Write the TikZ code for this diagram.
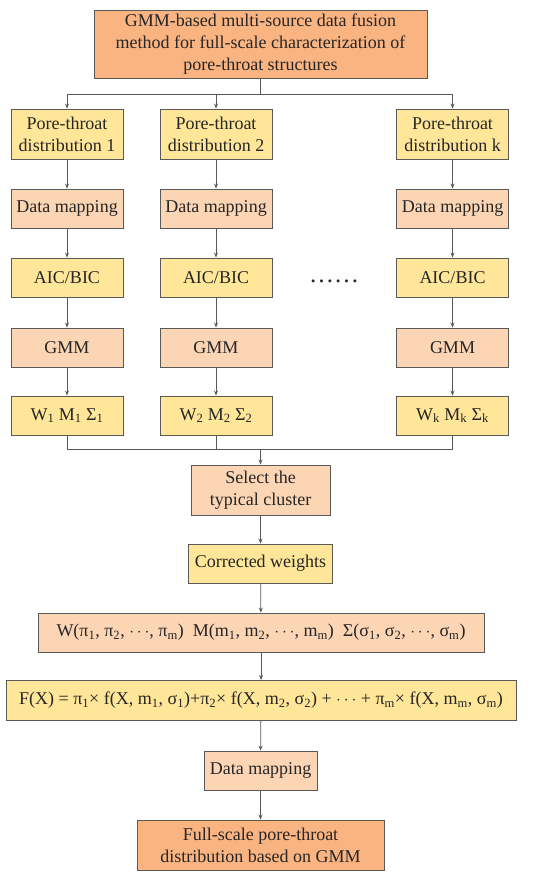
\documentclass[tikz,border=0pt]{standalone}
\usepackage{fontspec}
\setmainfont{Liberation Serif}
\usetikzlibrary{arrows.meta}
\definecolor{darkor}{HTML}{FAB482}
\definecolor{lightor}{HTML}{FCD5B4}
\definecolor{yel}{HTML}{FFE699}
\definecolor{bord}{HTML}{595959}
\definecolor{txt}{HTML}{262626}
\newcommand{\sbs}[1]{\textsubscript{#1}}
\begin{document}
\begin{tikzpicture}[x=1pt,y=-1pt,
  box/.style={draw=bord,line width=0.9pt,inner sep=0pt,align=center,text=txt,
     font=\fontsize{18}{22}\selectfont},
  darkbox/.style={box,fill=darkor},
  lightbox/.style={box,fill=lightor},
  yelbox/.style={box,fill=yel},
  colbox/.style={minimum width=112pt,minimum height=39pt},
  arr/.style={draw=bord,line width=0.8pt,-{Stealth[length=5pt,width=4pt]}},
  ln/.style={draw=bord,line width=0.8pt}]
\useasboundingbox (0,0) rectangle (550,880);
\fill[white] (0,0) rectangle (550,880);

\node[darkbox,minimum width=333pt,minimum height=68pt] (top) at (260.5,44)
  {GMM-based multi-source data fusion\\method for full-scale characterization of\\pore-throat structures};

\foreach \n/\x/\s in {1/67/1,2/216/2,k/452.5/k}{
  \node[yelbox,colbox,minimum height=50pt] (p\n) at (\x,134) {Pore-throat\\distribution \s};
  \node[lightbox,colbox] (d\n) at (\x,208.5) {Data mapping};
  \node[yelbox,colbox] (a\n) at (\x,277.5) {AIC/BIC};
  \node[lightbox,colbox] (g\n) at (\x,347.5) {GMM};
  \draw[arr] (p\n) -- (d\n);
  \draw[arr] (d\n) -- (a\n);
  \draw[arr] (a\n) -- (g\n);
}
\node[yelbox,colbox] (w1) at (67,415.5) {W\sbs{1} M\sbs{1} Σ\sbs{1}};
\node[yelbox,colbox] (w2) at (216,415.5) {W\sbs{2} M\sbs{2} Σ\sbs{2}};
\node[yelbox,colbox] (wk) at (452.5,415.5) {W\sbs{k} M\sbs{k} Σ\sbs{k}};
\foreach \n in {1,2,k}{\draw[arr] (g\n) -- (w\n);}

\node[text=txt,font=\fontsize{25}{25}\selectfont] (dots) at (334,281) {……};

\coordinate (fork) at (260.5,94);
\draw[ln] (top.south) -- (fork);
\draw[arr] (fork) -| (p1.north);
\draw[arr] (fork) -| (p2.north);
\draw[arr] (fork) -| (pk.north);

\node[lightbox,minimum width=139pt,minimum height=50pt] (sel) at (260.5,490) {Select the\\typical cluster};
\coordinate (merge) at (260.5,449);
\draw[ln] (w1.south) |- (merge);
\draw[ln] (wk.south) |- (merge);
\draw[ln] (w2.south) -- (w2.south |- merge);
\draw[arr] (merge) -- (sel.north);

\node[yelbox,minimum width=144pt,minimum height=39pt] (cw) at (260.5,563.5) {Corrected weights};
\node[lightbox,minimum width=446pt,minimum height=39pt] (wm) at (261,632.5)
  {W(π\sbs{1}, π\sbs{2}, $\cdots$, π\sbs{m})\enspace M(m\sbs{1}, m\sbs{2}, $\cdots$, m\sbs{m})\enspace Σ(σ\sbs{1}, σ\sbs{2}, $\cdots$, σ\sbs{m})};
\node[yelbox,minimum width=510pt,minimum height=40pt] (fx) at (261,700.5)
  {F(X) = π\sbs{1}× f(X, m\sbs{1}, σ\sbs{1})+π\sbs{2}× f(X, m\sbs{2}, σ\sbs{2}) + $\cdots$ + π\sbs{m}× f(X, m\sbs{m}, σ\sbs{m})};
\node[lightbox,minimum width=113pt,minimum height=39pt] (dm) at (260.5,770.5) {Data mapping};
\node[darkbox,minimum width=247pt,minimum height=50pt] (fin) at (260.5,845) {Full-scale pore-throat\\distribution based on GMM};

\draw[arr] (sel) -- (cw);
\draw[arr] (cw) -- (wm);
\draw[arr] (wm) -- (fx);
\draw[arr] (fx) -- (dm);
\draw[arr] (dm) -- (fin);
\end{tikzpicture}
\end{document}
